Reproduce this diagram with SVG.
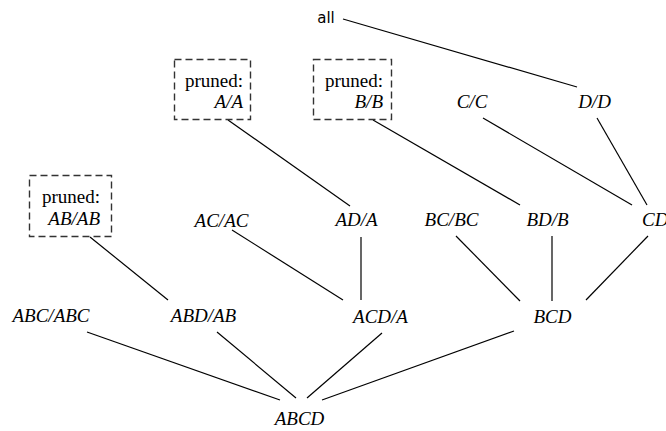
<svg xmlns="http://www.w3.org/2000/svg" width="666" height="431" viewBox="0 0 666 431">
<style>
.n{font-family:"Liberation Serif","Times New Roman",serif;font-style:italic;font-size:19px;fill:#000;text-anchor:middle}
.p{font-family:"Liberation Serif","Times New Roman",serif;font-size:19px;fill:#000;text-anchor:end}
.pi{font-style:italic}
.box{fill:none;stroke:#333;stroke-width:1.4;stroke-dasharray:7,4}
.e line{stroke:#000;stroke-width:1.2}
.s{font-family:"DejaVu Sans",sans-serif;font-size:15px;fill:#000;text-anchor:middle}
</style>
<rect width="666" height="431" fill="#fff"/>
<g id="connectors" class="e">
<line x1="343" y1="19" x2="577" y2="87"/>
<line x1="228" y1="120" x2="350" y2="206"/>
<line x1="373" y1="120" x2="520" y2="205"/>
<line x1="483" y1="118" x2="632" y2="205"/>
<line x1="597" y1="118" x2="647" y2="205"/>
<line x1="90" y1="237" x2="168" y2="300"/>
<line x1="232" y1="230" x2="343" y2="300"/>
<line x1="361" y1="237" x2="361" y2="300"/>
<line x1="456" y1="236" x2="520" y2="301"/>
<line x1="552" y1="236" x2="552" y2="301"/>
<line x1="648" y1="236" x2="586" y2="300"/>
<line x1="87" y1="332" x2="280" y2="400"/>
<line x1="217" y1="332" x2="296" y2="398"/>
<line x1="382" y1="333" x2="307" y2="398"/>
<line x1="514" y1="331" x2="322" y2="400"/>
</g>
<g id="all"><text class="s" x="326" y="23">all</text></g>
<g id="A"><rect class="box" x="174.5" y="59.5" width="76" height="60"/><text class="p" x="243" y="87">pruned:</text><text class="p pi" x="243" y="108">A/A</text></g>
<g id="B"><rect class="box" x="313.5" y="59.5" width="78" height="60"/><text class="p" x="383" y="87">pruned:</text><text class="p pi" x="383" y="108">B/B</text></g>
<g id="C"><text class="n" x="472" y="108">C/C</text></g>
<g id="D"><text class="n" x="594.5" y="108">D/D</text></g>
<g id="AB"><rect class="box" x="29.5" y="175.5" width="82" height="61"/><text class="p" x="100" y="203">pruned:</text><text class="p pi" x="100" y="225">AB/AB</text></g>
<g id="AC"><text class="n" x="221.5" y="227">AC/AC</text></g>
<g id="AD"><text class="n" x="356.5" y="226">AD/A</text></g>
<g id="BC"><text class="n" x="451.5" y="226">BC/BC</text></g>
<g id="BD"><text class="n" x="547.5" y="226">BD/B</text></g>
<g id="CD"><text class="n" x="642" y="226" style="text-anchor:start">CD</text></g>
<g id="ABC"><text class="n" x="51" y="322">ABC/ABC</text></g>
<g id="ABD"><text class="n" x="203.5" y="322">ABD/AB</text></g>
<g id="ACD"><text class="n" x="380.5" y="323">ACD/A</text></g>
<g id="BCD"><text class="n" x="552.5" y="323">BCD</text></g>
<g id="ABCD"><text class="n" x="299.5" y="425">ABCD</text></g>
</svg>
